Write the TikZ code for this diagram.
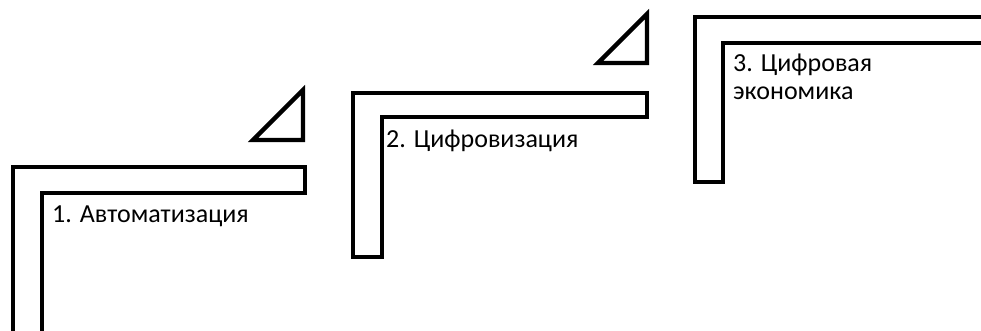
\documentclass[tikz,border=0pt]{standalone}
\usepackage{fontspec}
\setmainfont{Carlito}
\usepackage{tikz}
\usepackage{xcolor}

\tikzset{
  stair/.style={draw=black, line width=4.3pt, fill=white, line join=miter},
  steplabel/.style={anchor=base west, inner sep=0pt, align=left,
    font=\fontsize{26}{28}\selectfont}
}

\begin{document}
\begin{tikzpicture}[x=1pt,y=-1pt]
\useasboundingbox (0,0) rectangle (981,330);
\clip (0,0) rectangle (981,330);
% step 1
\draw[stair] (13,340) -- (13,167) -- (305,167) -- (305,193) -- (42,193) -- (42,340);
\draw[stair] (303,90) -- (303,140) -- (253,140) -- cycle;
\node[steplabel] (auto) at (52,222) {1. Автоматизация};
% step 2
\draw[stair] (353,257) -- (353,93) -- (647,93) -- (647,117) -- (382,117) -- (382,257) -- cycle;
\draw[stair] (647,14) -- (647,63) -- (598,63) -- cycle;
\node[steplabel] (digit) at (386,147) {2. Цифровизация};
% step 3 (base anchor sits on the last line)
\draw[stair] (990,43) -- (723,43) -- (723,182) -- (695,182) -- (695,17) -- (990,17);
\node[steplabel] (econ) at (733,99) {3. Цифровая\\экономика};
\end{tikzpicture}
\end{document}
